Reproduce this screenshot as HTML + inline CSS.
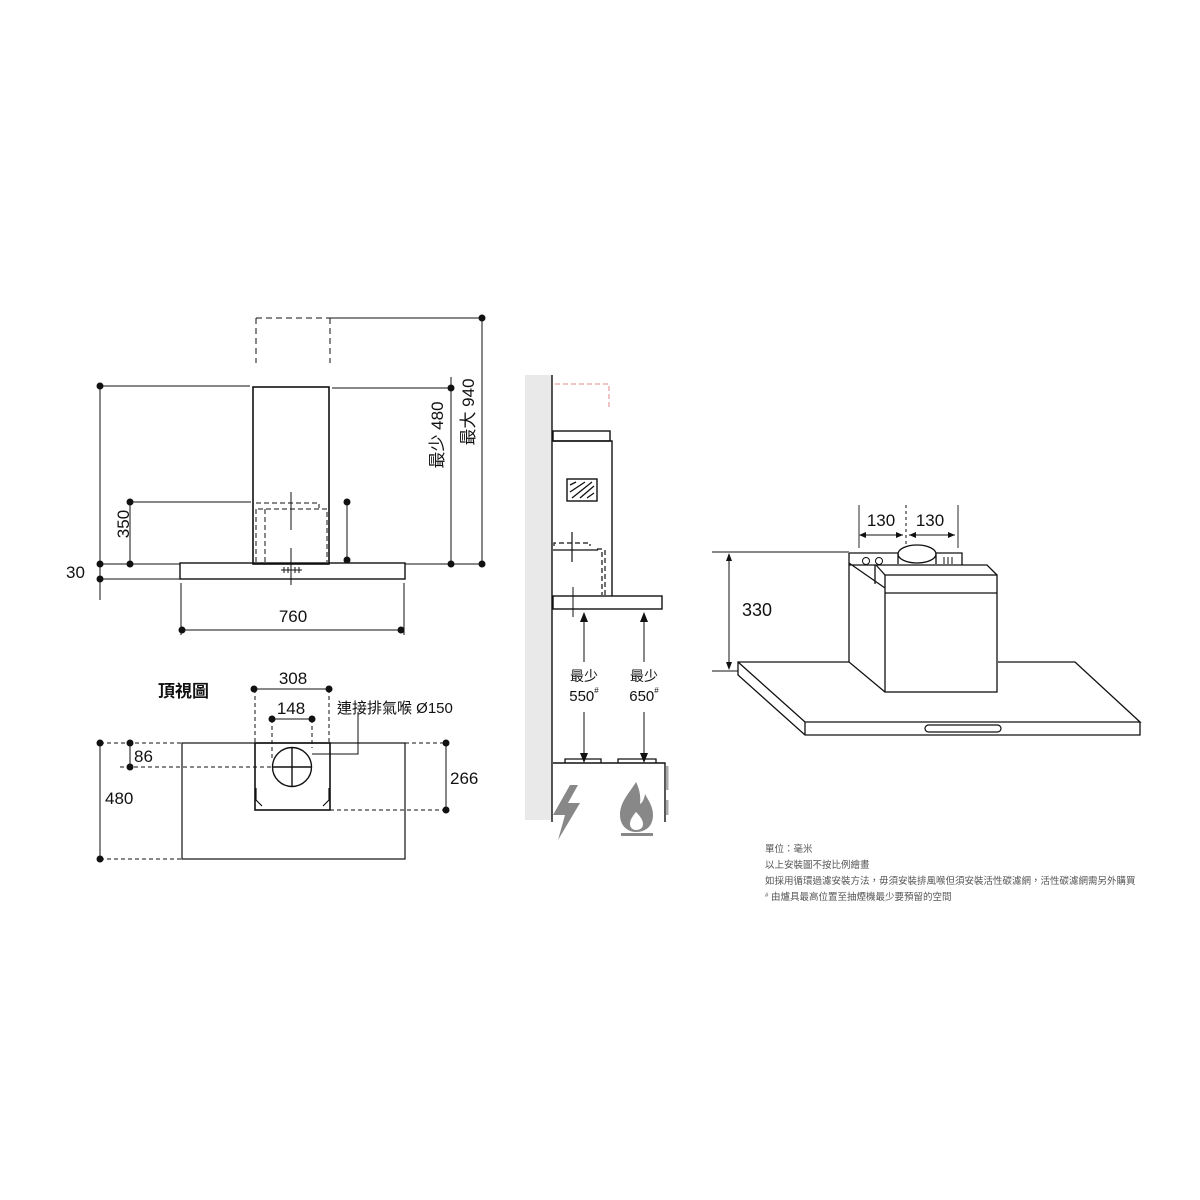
<!DOCTYPE html>
<html><head><meta charset="utf-8"><style>
html,body{margin:0;padding:0;background:#fff;}
svg{display:block;font-family:"Liberation Sans","Noto Sans CJK TC",sans-serif;}
</style></head><body>
<svg width="1200" height="1200" viewBox="0 0 1200 1200" xmlns="http://www.w3.org/2000/svg">
<g stroke="#111" stroke-width="1" fill="none">
<!-- FRONT VIEW -->
<path d="M256 318H330M256 318V363M330 318V363" stroke-dasharray="6,4"/>
<path d="M330 318H482V564"/>
<rect x="253" y="387" width="76" height="177" stroke-width="1.6"/>
<path d="M100 386H250M332 388H451M451 377V564"/>
<path d="M100 386V600M100 579H180M405 564H482"/>
<rect x="180" y="563" width="225" height="16" stroke-width="1.4"/>
<path d="M130 502H251M130 502V564M100 564H180"/>
<path d="M256 503H319V508M258 509H327V562M265 509V562M256 509V562" stroke-dasharray="5,3"/>
<path d="M291 492V530M291 548V585M281 570H302"/>
<path d="M284 567V573M288 567V573M295 567V573M299 567V573"/>
<path d="M347 502V560"/>
<path d="M181 583V635M404 583V635M182 630H401"/>
<!-- TOP VIEW -->
<rect x="182" y="743" width="223" height="116" stroke-width="1.2"/>
<rect x="255" y="743" width="75" height="67" stroke-width="1.6"/>
<circle cx="292" cy="767" r="19.5" stroke-width="1.4"/>
<path d="M272 767H312M292 747V787" stroke-width="1.4"/>
<path d="M256 788V800L262 806M329 788V800L323 806" stroke-width="1.2"/>
<path d="M100 743H182M405 743H446M120 767H272M330 810H446M100 859H182M255 689V743M329 689V743M272 719V758M312 719V748" stroke-dasharray="4,3"/>
<path d="M100 743V859M130 743V767M446 743V810M254 689H329M272 719H312"/>
<path d="M312 754H358V712"/>
<!-- SIDE VIEW -->
<rect x="525" y="375" width="27" height="445" fill="#e9e9e9" stroke="none"/>
<path d="M552 375V822" stroke-width="1.4"/>
<path d="M555 384H609V410" stroke="#d88" stroke-dasharray="5,3"/>
<rect x="553" y="431" width="57" height="10" stroke-width="1.4"/>
<path d="M553 441H612V596" stroke-width="1.4"/>
<rect x="567" y="479" width="30" height="22" stroke-width="1.4"/>
<path d="M570 485L576 482M570 492L585 482M572 498L592 482M580 498L594 486M587 498L594 493" stroke-width="1.3"/>
<path d="M553 550H598M572 532V562" stroke-width="1.2"/>
<path d="M554 546V543H590V546M597 549H602V595M605 550V595" stroke-dasharray="5,3" stroke-width="1.2"/>
<rect x="553" y="596" width="109" height="13" stroke-width="1.4"/>
<path d="M573 587V617"/>
<path d="M584 616V662M584 712V759M644 616V662M644 712V759"/>
<path d="M553 763H665V822" stroke-width="1.4"/>
<path d="M565 763V759H601V763M618 763V759H656V763" stroke-width="1.3"/>
<!-- ISO -->
<path d="M859 505V548M958 505V548M712 552H849M712 671H738" stroke-width="0.9"/>
<path d="M906 505V552" stroke-dasharray="3,3"/>
<path d="M860 535H903M909 535H955M729 556V668"/>
<path d="M738 662L805 722H1140L1075 662H998M849 662H738V675L805 735H1140V722M805 722V735" stroke-width="1.3"/>
<path d="M849 553H898M936 553H962V565M849 553V662L885 692M849 565H876M875 565V584M849 563L885 588" stroke-width="1.3"/>
<rect x="885" y="575" width="112" height="117" stroke-width="1.3" fill="#fff"/>
<path d="M876 565H987L997 575M876 565L885 575M885 593H997" stroke-width="1.3"/>
<ellipse cx="917" cy="554" rx="19" ry="9" stroke-width="1.3" fill="#fff"/>
<path d="M898 554V564M936 554V564" stroke-width="1.3"/>
<circle cx="866" cy="561" r="3.5"/><circle cx="879" cy="561" r="3.5"/>
<path d="M944 557V564M948 557V564M952 557V564"/>
<rect x="925" y="725" width="76" height="7" rx="3.5" stroke-width="1.2"/>
</g>
<g fill="#111">
<circle cx="482" cy="318" r="3.5"/><circle cx="482" cy="564" r="3.5"/>
<circle cx="100" cy="386" r="3.5"/><circle cx="100" cy="564" r="3.5"/><circle cx="100" cy="579" r="3.5"/>
<circle cx="451" cy="388" r="3.5"/><circle cx="451" cy="564" r="3.5"/>
<circle cx="130" cy="502" r="3.5"/><circle cx="130" cy="564" r="3.5"/>
<circle cx="347" cy="502" r="3.5"/><circle cx="347" cy="560" r="3.5"/>
<circle cx="182" cy="630" r="3.5"/><circle cx="401" cy="630" r="3.5"/>
<circle cx="100" cy="743" r="3.5"/><circle cx="100" cy="859" r="3.5"/>
<circle cx="130" cy="743" r="3.5"/><circle cx="130" cy="767" r="3.5"/>
<circle cx="446" cy="743" r="3.5"/><circle cx="446" cy="810" r="3.5"/>
<circle cx="254" cy="689" r="3.5"/><circle cx="329" cy="689" r="3.5"/>
<circle cx="272" cy="719" r="3.5"/><circle cx="312" cy="719" r="3.5"/>
<path d="M584 612L580 622H588Z M584 763L580 753H588Z M644 612L640 622H648Z M644 763L640 753H648Z"/>
<path d="M859 535L866 532V538Z M903 535L896 532V538Z M909 535L916 532V538Z M955 535L948 532V538Z M729 553L726 561H732Z M729 670L726 662H732Z"/>
</g>
<!-- icons -->
<path d="M570 785L553 815H565L558 840L580 803H568L578 785Z" fill="#888"/>
<path d="M636 782C628 795 620 802 620 815C620 826 628 832 636 832C646 832 653 826 653 815C653 806 648 800 645 794C644 800 642 803 640 804C641 795 639 788 636 782Z M636 812C632 817 630 820 630 824C630 828 633 830 636 830C640 830 643 828 643 824C643 820 640 816 636 812Z" fill="#888" fill-rule="evenodd"/>
<rect x="621" y="833" width="32" height="3" fill="#888"/>
<path d="M667 766V790M667 800V815" stroke="#aaa" stroke-width="3"/>
<!-- TEXT -->
<g fill="#111" font-size="17">
<text x="293" y="622" text-anchor="middle">760</text>
<text x="66" y="578">30</text>
<text transform="translate(129,524) rotate(-90)" text-anchor="middle">350</text>
<text transform="translate(443,435) rotate(-90)" text-anchor="middle">最少 480</text>
<text transform="translate(474,412) rotate(-90)" text-anchor="middle">最大 940</text>
<text x="293" y="684" text-anchor="middle">308</text>
<text x="291" y="714" text-anchor="middle">148</text>
<text x="134" y="762">86</text>
<text x="105" y="804">480</text>
<text x="450" y="784">266</text>
<text x="158" y="697" font-weight="bold" font-size="17">頂視圖</text>
<text x="337" y="713" font-size="15">連接排氣喉 Ø150</text>
<text x="584" y="681" text-anchor="middle" font-size="14">最少</text>
<text x="584" y="701" text-anchor="middle" font-size="15">550<tspan font-size="8" dy="-8">#</tspan></text>
<text x="644" y="681" text-anchor="middle" font-size="14">最少</text>
<text x="644" y="701" text-anchor="middle" font-size="15">650<tspan font-size="8" dy="-8">#</tspan></text>
<text x="881" y="526" text-anchor="middle">130</text>
<text x="930" y="526" text-anchor="middle">130</text>
<text x="757" y="616" text-anchor="middle" font-size="18">330</text>
</g>
<g fill="#555" font-size="9.5">
<text x="765" y="852">單位：毫米</text>
<text x="765" y="868">以上安裝圖不按比例繪畫</text>
<text x="765" y="884">如採用循環過濾安裝方法，毋須安裝排風喉但須安裝活性碳濾網，活性碳濾網需另外購買</text>
<text x="765" y="900"><tspan font-size="6" dy="-3">#</tspan><tspan dy="3"> 由爐具最高位置至抽煙機最少要預留的空間</tspan></text>
</g>
</svg>
</body></html>
